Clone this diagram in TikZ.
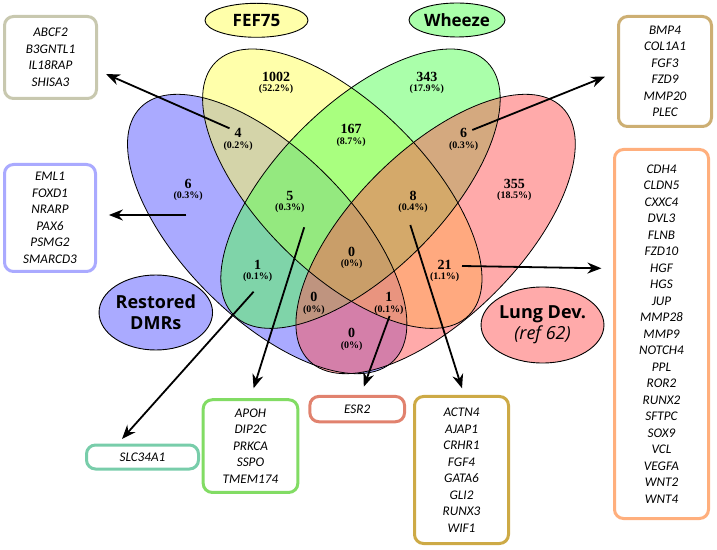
\documentclass[tikz,border=0pt]{standalone}
\usepackage{fontspec}
\setmainfont{Liberation Serif}
\newfontfamily\genefont{Carlito}
\newfontfamily\labfont{Open Sans}
\usetikzlibrary{arrows.meta,shapes.geometric}
\definecolor{cblue}{RGB}{85,85,255}
\definecolor{cyellow}{RGB}{255,255,85}
\definecolor{cgreen}{RGB}{85,255,85}
\definecolor{cpink}{RGB}{255,85,85}
\definecolor{lblue}{RGB}{170,170,255}
\definecolor{lyellow}{RGB}{255,255,170}
\definecolor{lgreen}{RGB}{170,255,170}
\definecolor{lpink}{RGB}{255,170,170}
\definecolor{bgray}{RGB}{200,200,175}
\definecolor{btan}{RGB}{205,175,115}
\definecolor{blav}{RGB}{170,170,255}
\definecolor{borange}{RGB}{255,175,125}
\definecolor{bteal}{RGB}{120,205,170}
\definecolor{bgreen}{RGB}{130,220,100}
\definecolor{bsalmon}{RGB}{225,130,110}
\definecolor{bmustard}{RGB}{205,170,70}
\begin{document}
\begin{tikzpicture}[x=1pt,y=1pt,
  setfill/.style={fill opacity=0.5},
  setline/.style={draw=black, line width=0.8pt},
  num/.style={font=\fontsize{14}{14}\selectfont\bfseries, inner sep=0pt},
  pct/.style={font=\fontsize{10}{10}\selectfont\bfseries, inner sep=0pt},
  tag/.style={ellipse, draw=black, line width=0.9pt, inner sep=0pt, align=center,
    font=\labfont\bfseries\fontsize{17}{19}\selectfont},
  bigtag/.style={tag, font=\labfont\bfseries\fontsize{18}{21}\selectfont},
  genebox/.style={draw, line width=3pt, rounded corners=9pt, fill=white, align=center,
    inner sep=0pt, font=\genefont\itshape\fontsize{13.2}{16.5}\selectfont},
  arr/.style={line width=1.8pt, -{Stealth[length=14pt, width=11pt]}}
]
\useasboundingbox (0,0) rectangle (717,549);
% Venn fills
\fill[cblue, setfill, rotate around={-45:(267.2,315)}] (267.2,315) ellipse [x radius=179, y radius=83.5];
\fill[cyellow, setfill, rotate around={-45:(342.3,360.3)}] (342.3,360.3) ellipse [x radius=179, y radius=83.5];
\fill[cgreen, setfill, rotate around={45:(360.5,360.3)}] (360.5,360.3) ellipse [x radius=179, y radius=83.5];
\fill[cpink, setfill, rotate around={45:(435.6,315)}] (435.6,315) ellipse [x radius=179, y radius=83.5];
% Venn outlines
\draw[setline, rotate around={-45:(267.2,315)}] (267.2,315) ellipse [x radius=179, y radius=83.5];
\draw[setline, rotate around={-45:(342.3,360.3)}] (342.3,360.3) ellipse [x radius=179, y radius=83.5];
\draw[setline, rotate around={45:(360.5,360.3)}] (360.5,360.3) ellipse [x radius=179, y radius=83.5];
\draw[setline, rotate around={45:(435.6,315)}] (435.6,315) ellipse [x radius=179, y radius=83.5];
% region counts
\foreach \nm/\x/\y/\n/\p in {
  a/276.0/472.3/1002/(52.2\%),
  b/426.8/472.3/343/(17.9\%),
  c/238.1/415.7/4/(0.2\%),
  d/351.1/419.7/167/(8.7\%),
  e/463.7/415.7/6/(0.3\%),
  f/188.2/365.0/6/(0.3\%),
  g/514.3/365.0/355/(18.5\%),
  h/289.8/353.3/5/(0.3\%),
  i/413.0/353.3/8/(0.4\%),
  j/351.7/297.3/0/(0\%),
  k/257.7/284.0/1/(0.1\%),
  l/444.7/284.0/21/(1.1\%),
  m/313.9/251.7/0/(0\%),
  n/388.9/251.7/1/(0.1\%),
  o/351.7/215.7/0/(0\%)}{
  \node[num] (n\nm) at (\x,\y) {\n};
  \node[pct] (p\nm) at (\x,\y-12.5) {\p};
}
% set labels
\node[tag, fill=lyellow, minimum width=103pt, minimum height=34pt] (fef) at (256.5,528.7) {FEF75};
\node[tag, fill=lgreen, minimum width=96pt, minimum height=34pt] (whz) at (457,529) {Wheeze};
\node[bigtag, fill=lblue, minimum width=101pt, minimum height=75pt] (dmr) at (155.8,236.5) {Restored\\DMRs};
\node[bigtag, fill=lpink, minimum width=109pt, minimum height=76pt] (lung) at (542.5,224) {Lung Dev.\\{\mdseries\itshape (ref 62)}};
% gene boxes
\node[genebox, draw=bgray, minimum width=92pt, minimum height=82pt] (gA) at (50.5,491.5) {ABCF2\\B3GNTL1\\IL18RAP\\SHISA3};
\node[genebox, draw=btan, minimum width=93pt, minimum height=110pt] (gB) at (665,477.5) {BMP4\\COL1A1\\FGF3\\FZD9\\MMP20\\PLEC};
\node[genebox, draw=blav, minimum width=91pt, minimum height=107pt] (gC) at (50,331) {EML1\\FOXD1\\NRARP\\PAX6\\PSMG2\\SMARCD3};
\node[genebox, draw=borange, minimum width=94pt, minimum height=369pt] (gD) at (661.5,215) {CDH4\\CLDN5\\CXXC4\\DVL3\\FLNB\\FZD10\\HGF\\HGS\\JUP\\MMP28\\MMP9\\NOTCH4\\PPL\\ROR2\\RUNX2\\SFTPC\\SOX9\\VCL\\VEGFA\\WNT2\\WNT4};
\node[genebox, draw=bteal, minimum width=112pt, minimum height=24pt] (gE) at (142.5,92) {SLC34A1};
\node[genebox, draw=bgreen, minimum width=94.6pt, minimum height=92.7pt] (gF) at (250.5,102.9) {APOH\\DIP2C\\PRKCA\\SSPO\\TMEM174};
\node[genebox, draw=bsalmon, minimum width=94.7pt, minimum height=25.3pt] (gG) at (357.2,139.9) {ESR2};
\node[genebox, draw=bmustard, minimum width=94pt, minimum height=147pt] (gH) at (461.5,79) {ACTN4\\AJAP1\\CRHR1\\FGF4\\GATA6\\GLI2\\RUNX3\\WIF1};
% arrow ends
\coordinate (t1) at (229.5,420.7); \coordinate (h1) at (106,475);
\coordinate (t2) at (186.4,334);   \coordinate (h2) at (108.9,334);
\coordinate (t3) at (472.3,419);   \coordinate (h3) at (604.9,472.3);
\coordinate (t4) at (462,283);     \coordinate (h4) at (601.4,280.7);
\coordinate (t5) at (253.6,257.3); \coordinate (h5) at (122,110);
\coordinate (t6) at (304.2,321.7); \coordinate (h6) at (253.6,160.7);
\coordinate (t7) at (389.6,233);   \coordinate (h7) at (363.8,162.3);
\coordinate (t8) at (410.3,324);   \coordinate (h8) at (462,160.7);
\foreach \k in {1,...,8}{ \draw[arr] (t\k) -- (h\k); }
\end{tikzpicture}
\end{document}
